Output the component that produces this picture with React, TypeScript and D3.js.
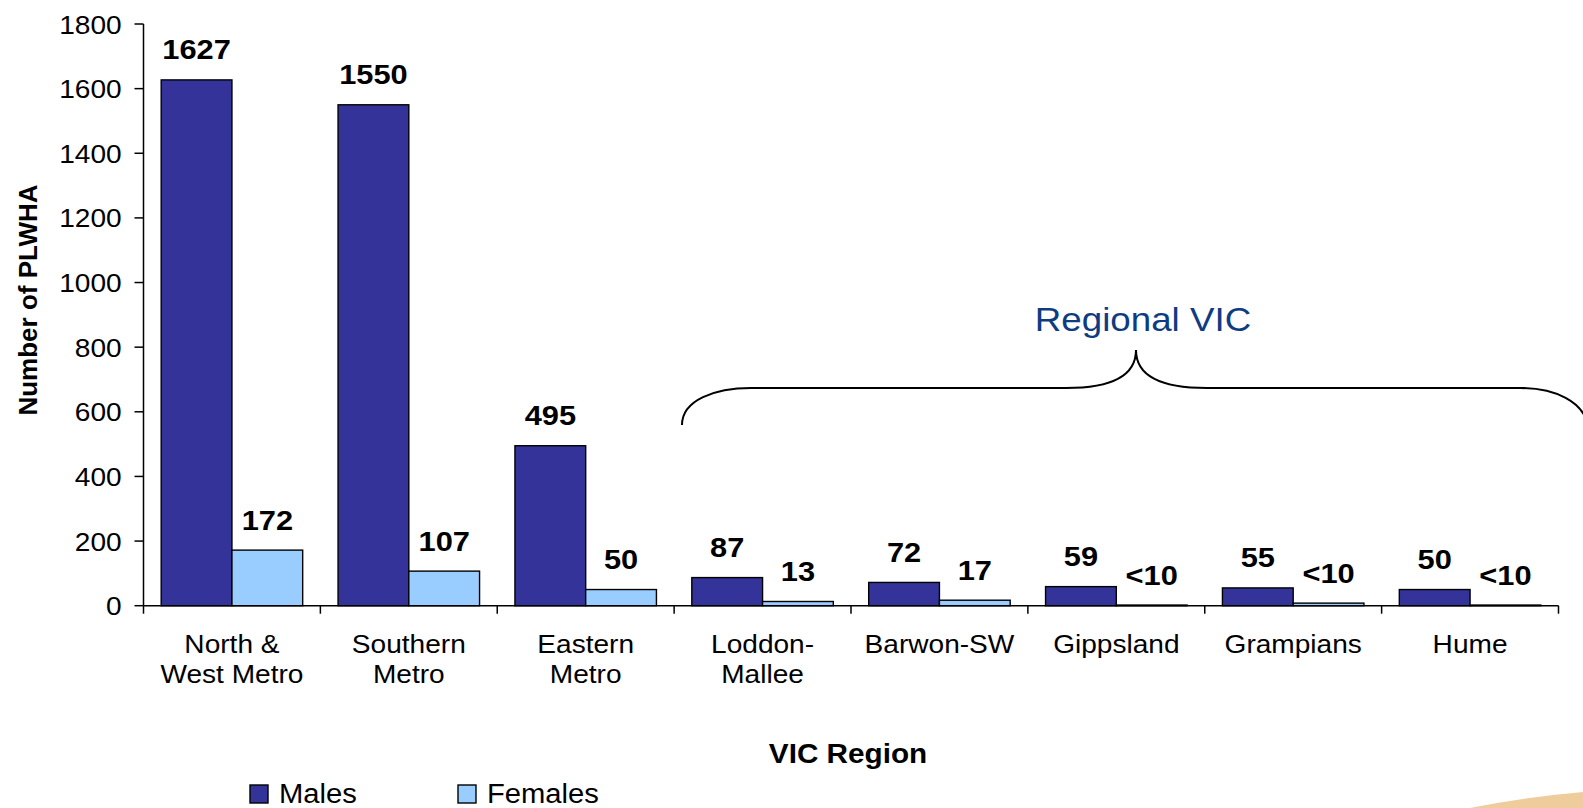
import React from "react";
import * as d3 from "d3";

const categories: string[][] = [
  ["North &", "West Metro"],
  ["Southern", "Metro"],
  ["Eastern", "Metro"],
  ["Loddon-", "Mallee"],
  ["Barwon-SW"],
  ["Gippsland"],
  ["Grampians"],
  ["Hume"],
];
const males = [1627, 1550, 495, 87, 72, 59, 55, 50];
const females = [172, 107, 50, 13, 17, 2, 8, 2];
const maleLabels = ["1627", "1550", "495", "87", "72", "59", "55", "50"];
const femaleLabels = ["172", "107", "50", "13", "17", "<10", "<10", "<10"];
const yTicks = [0, 200, 400, 600, 800, 1000, 1200, 1400, 1600, 1800];
const seriesNames = ["Males", "Females"];
const seriesColors = ["#333399", "#99CCFF"];

const FONT = "'Liberation Sans', Arial, Helvetica, sans-serif";
const SX = 1.08;

function T(props: {
  x: number;
  y: number;
  size: number;
  bold?: boolean;
  anchor?: "start" | "middle" | "end";
  fill?: string;
  children: React.ReactNode;
}) {
  const { x, y, size, bold, anchor = "start", fill = "#000", children } = props;
  return (
    <text
      transform={`translate(${x},${y}) scale(${SX},1)`}
      fontFamily={FONT}
      fontSize={size}
      fontWeight={bold ? "bold" : "normal"}
      textAnchor={anchor}
      fill={fill}
    >
      {children}
    </text>
  );
}

export default function App() {
  const W = 1583;
  const H = 808;
  const left = 143.5;
  const right = 1558.5;
  const top = 24;
  const bottom = 605.7;

  const x0 = d3
    .scaleBand<number>()
    .domain(d3.range(categories.length))
    .range([left, right])
    .paddingInner(0.2)
    .paddingOuter(0.1);
  const x1 = d3.scaleBand<number>().domain([0, 1]).range([0, x0.bandwidth()]);
  const y = d3.scaleLinear().domain([0, 1800]).range([bottom, top]);
  const step = x0.step();

  const bracePath =
    "M682,425 C682,400 715,388 751,388 L1066,388 C1112,388 1136,376 1136,350 " +
    "C1136,376 1160,388 1207,388 L1520,388 C1556,388 1583,402 1588,425";

  return (
    <svg
      width={W}
      height={H}
      style={{ position: "absolute", left: 0, top: 0, background: "#fff" }}
    >
      <rect x={0} y={0} width={W} height={H} fill="#fff" />
      <path d="M1470,808 Q1525,797 1583,792 L1583,808 Z" fill="#EFCC9C" />

      {categories.map((_, i) => {
        const vals = [males[i], females[i]];
        return vals.map((v, s) => (
          <rect
            key={`${i}-${s}`}
            x={(x0(i) as number) + (x1(s) as number)}
            y={y(v)}
            width={x1.bandwidth()}
            height={bottom - y(v)}
            fill={seriesColors[s]}
            stroke="#000"
            strokeWidth={1.4}
          />
        ));
      })}

      {categories.map((_, i) => (
        <g key={`lab-${i}`}>
          <T
            x={(x0(i) as number) + (x1(0) as number) + x1.bandwidth() / 2}
            y={y(males[i]) - 20.5}
            size={28.5}
            bold
            anchor="middle"
          >
            {maleLabels[i]}
          </T>
          <T
            x={(x0(i) as number) + (x1(1) as number) + x1.bandwidth() / 2}
            y={y(females[i]) - 20.5}
            size={28.5}
            bold
            anchor="middle"
          >
            {femaleLabels[i]}
          </T>
        </g>
      ))}

      <line x1={left} x2={left} y1={top} y2={bottom} stroke="#000" strokeWidth={1.5} />
      {yTicks.map((t) => (
        <g key={`yt-${t}`}>
          <line x1={left - 9} x2={left} y1={y(t)} y2={y(t)} stroke="#000" strokeWidth={1.5} />
          <T x={121.7} y={y(t) + 9.5} size={26} anchor="end">
            {t}
          </T>
        </g>
      ))}

      <line x1={left} x2={right} y1={bottom} y2={bottom} stroke="#000" strokeWidth={1.5} />
      {d3.range(categories.length + 1).map((k) => (
        <line
          key={`xt-${k}`}
          x1={left + k * step}
          x2={left + k * step}
          y1={bottom}
          y2={bottom + 8}
          stroke="#000"
          strokeWidth={1.5}
        />
      ))}
      {categories.map((lines, i) => (
        <g key={`cat-${i}`}>
          {lines.map((ln, j) => (
            <T
              key={j}
              x={(x0(i) as number) + x0.bandwidth() / 2}
              y={652.5 + j * 30.7}
              size={26}
              anchor="middle"
            >
              {ln}
            </T>
          ))}
        </g>
      ))}

      <T x={848} y={763} size={27.5} bold anchor="middle">
        VIC Region
      </T>
      <text
        transform="translate(37,300) rotate(-90)"
        fontFamily={FONT}
        fontSize={26}
        fontWeight="bold"
        textAnchor="middle"
      >
        Number of PLWHA
      </text>

      <path d={bracePath} fill="none" stroke="#000" strokeWidth={2} />
      <T x={1143} y={331} size={34} anchor="middle" fill="#0E3C82">
        Regional VIC
      </T>

      {seriesNames.map((n, s) => (
        <g key={`leg-${s}`}>
          <rect
            x={250 + s * 208}
            y={785}
            width={18}
            height={18}
            fill={seriesColors[s]}
            stroke="#000"
            strokeWidth={1.4}
          />
          <T x={279 + s * 208} y={803} size={27}>
            {n}
          </T>
        </g>
      ))}
    </svg>
  );
}
